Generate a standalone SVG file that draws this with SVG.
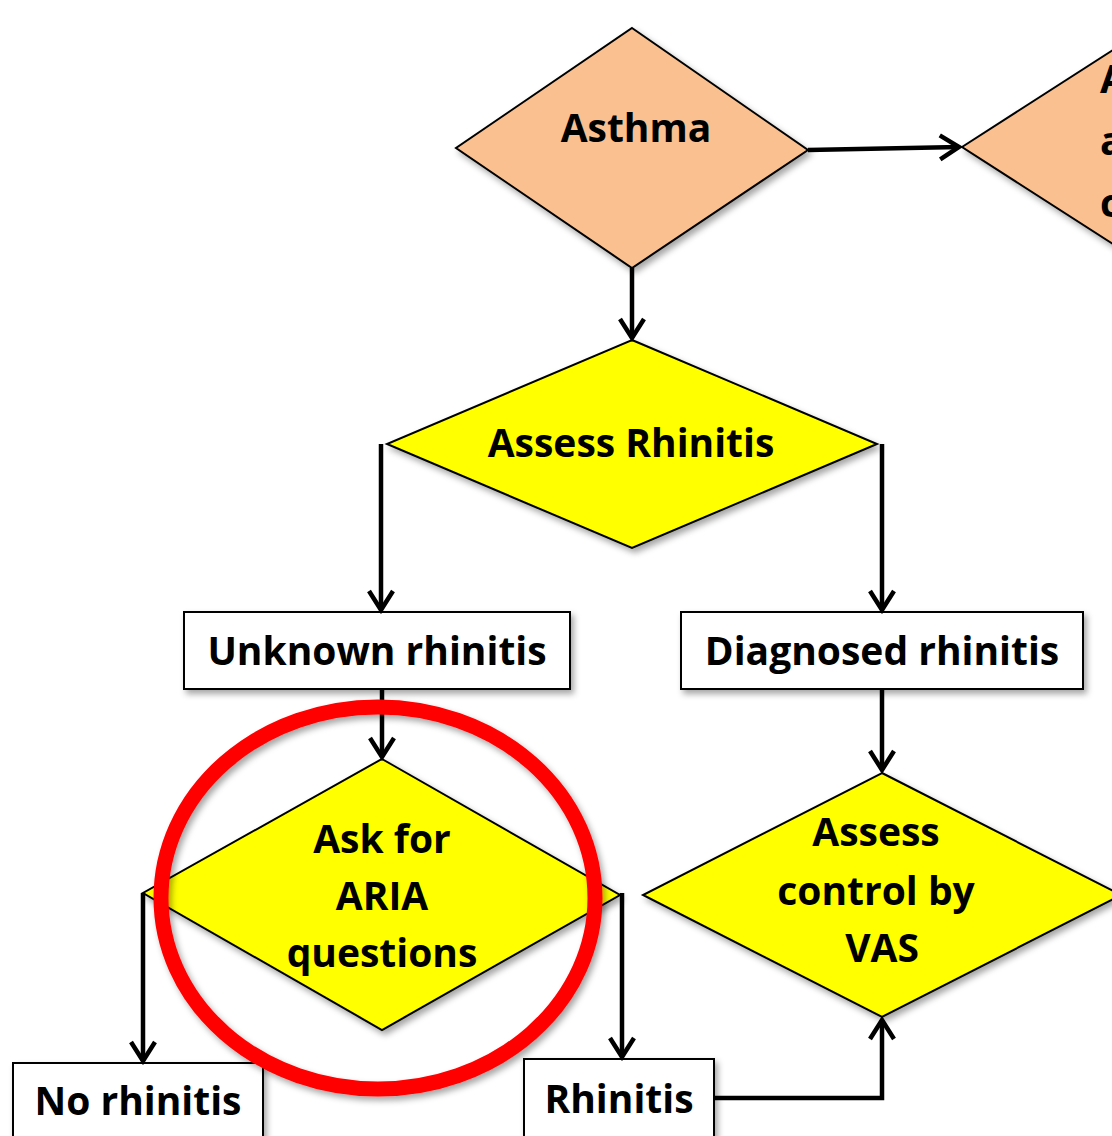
<svg xmlns="http://www.w3.org/2000/svg" width="1112" height="1136" viewBox="0 0 1112 1136">
  <defs>
    <filter id="sh" x="-10%" y="-10%" width="130%" height="130%">
      <feDropShadow dx="3" dy="4" stdDeviation="3" flood-color="#000" flood-opacity="0.35"/>
    </filter>
    <marker id="arr" markerUnits="userSpaceOnUse" viewBox="-26 -15 30 30" markerWidth="30" markerHeight="30" refX="0" refY="0" orient="auto">
      <path d="M-19,-12 L0,0 L-19,12" fill="none" stroke="#000" stroke-width="4.5" stroke-linejoin="miter"/>
    </marker>
    <style>
      .orange { fill: #FAC090; stroke: #000; stroke-width: 2; filter: url(#sh); }
      .yellow { fill: #FFFF00; stroke: #000; stroke-width: 2; filter: url(#sh); }
      .box { fill: #FFFFFF; stroke: #000; stroke-width: 2; filter: url(#sh); }
      .lbl { font-family: "Open Sans", "Noto Sans", "Liberation Sans", sans-serif; font-weight: bold; font-size: 39px; fill: #000; text-anchor: middle; }
      .conn { fill: none; stroke: #000; stroke-width: 4.5; marker-end: url(#arr); }
    </style>
  </defs>
  <rect width="1112" height="1136" fill="#FFFFFF"/>

  <g id="node-asthma">
    <polygon class="orange" points="632,28 808,150 632,268 456,148"/>
    <text class="lbl" x="636" y="142">Asthma</text>
  </g>

  <g id="node-assess-asthma-control">
    <polygon class="orange" points="962,147 1200,-6 1438,147 1200,300"/>
    <text class="lbl" x="1100" y="93" style="text-anchor:start">Assess</text>
    <text class="lbl" x="1100" y="155" style="text-anchor:start">asthma</text>
    <text class="lbl" x="1100" y="217" style="text-anchor:start">control</text>
  </g>

  <g id="node-assess-rhinitis">
    <polygon class="yellow" points="632,340 877,444 632,548 387,444"/>
    <text class="lbl" x="631" y="457">Assess Rhinitis</text>
  </g>

  <g id="node-unknown-rhinitis">
    <rect class="box" x="184" y="612" width="386" height="77"/>
    <text class="lbl" x="377" y="665">Unknown rhinitis</text>
  </g>

  <g id="node-diagnosed-rhinitis">
    <rect class="box" x="681" y="612" width="402" height="77"/>
    <text class="lbl" x="882" y="665">Diagnosed rhinitis</text>
  </g>

  <g id="node-ask-aria">
    <polygon class="yellow" points="382,759 620,895 382,1030 143,893"/>
    <text class="lbl" x="382" y="853">Ask for</text>
    <text class="lbl" x="382" y="910">ARIA</text>
    <text class="lbl" x="382" y="967">questions</text>
  </g>

  <g id="node-assess-control-vas">
    <polygon class="yellow" points="882,773 1121,895 882,1017 643,895"/>
    <text class="lbl" x="876" y="846">Assess</text>
    <text class="lbl" x="876" y="905">control by</text>
    <text class="lbl" x="882" y="962">VAS</text>
  </g>

  <g id="node-no-rhinitis">
    <rect class="box" x="13" y="1063" width="250" height="90"/>
    <text class="lbl" x="138" y="1115">No rhinitis</text>
  </g>

  <g id="node-rhinitis">
    <rect class="box" x="524" y="1059" width="190" height="90"/>
    <text class="lbl" x="619" y="1113">Rhinitis</text>
  </g>

  <g id="connectors">
    <path class="conn" d="M808,150 L959,147"/>
    <path class="conn" d="M632,268 L632,338"/>
    <path class="conn" d="M381,444 L381,610"/>
    <path class="conn" d="M882,444 L882,610"/>
    <path class="conn" d="M382,689 L382,757"/>
    <path class="conn" d="M882,689 L882,770"/>
    <path class="conn" d="M143,893 L143,1061"/>
    <path class="conn" d="M622,893 L622,1057"/>
    <path class="conn" d="M714,1098 L882,1098 L882,1020"/>
  </g>

  <g id="highlight">
    <ellipse cx="378" cy="898" rx="217" ry="191" fill="none" stroke="#FF0000" stroke-width="15" filter="url(#sh)"/>
  </g>
</svg>
